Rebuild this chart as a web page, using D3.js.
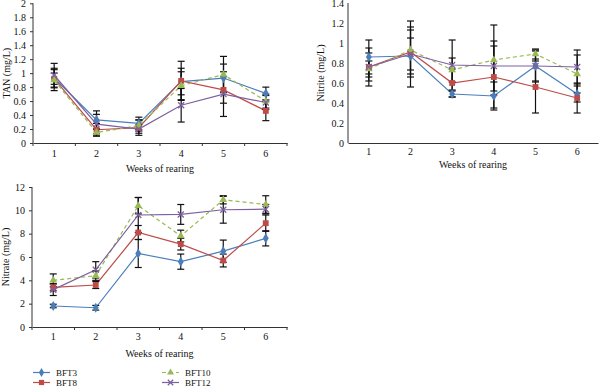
<!DOCTYPE html>
<head>
  <meta charset="utf-8">
  <script src="https://d3js.org/d3.v7.min.js"></script>
  <style>
    body { margin:0; padding:0; background:#fff; }
    text { font-family: "Liberation Serif", "DejaVu Serif", serif; fill:#111; }
  </style>
</head>
<body>
<svg id="chart" width="600" height="388"></svg>
<script>
var weeks = [1, 2, 3, 4, 5, 6];
var seriesNames = ["BFT3", "BFT8", "BFT10", "BFT12"];

// TAN (mg/L) means and SD
var tanBFT3  = [0.93, 0.33, 0.28, 0.88, 0.93, 0.71];
var tanBFT8  = [0.92, 0.19, 0.22, 0.89, 0.76, 0.46];
var tanBFT10 = [0.90, 0.15, 0.25, 0.82, 0.98, 0.60];
var tanBFT12 = [0.97, 0.27, 0.20, 0.54, 0.70, 0.58];
var tanSdBFT3  = [0.14, 0.13, 0.09, 0.19, 0.20, 0.09];
var tanSdBFT8  = [0.08, 0.09, 0.11, 0.28, 0.19, 0.14];
var tanSdBFT10 = [0.15, 0.05, 0.08, 0.20, 0.26, 0.10];
var tanSdBFT12 = [0.17, 0.14, 0.06, 0.24, 0.32, 0.10];

// Nitrite (mg/L)
var nitriteBFT3  = [0.86, 0.87, 0.49, 0.47, 0.77, 0.49];
var nitriteBFT8  = [0.76, 0.91, 0.60, 0.66, 0.56, 0.45];
var nitriteBFT10 = [0.74, 0.93, 0.73, 0.83, 0.89, 0.69];
var nitriteBFT12 = [0.76, 0.89, 0.78, 0.77, 0.77, 0.76];
var nitriteSdBFT3  = [0.17, 0.18, 0.03, 0.14, 0.16, 0.08];
var nitriteSdBFT8  = [0.14, 0.25, 0.14, 0.31, 0.26, 0.15];
var nitriteSdBFT10 = [0.08, 0.20, 0.12, 0.35, 0.05, 0.19];
var nitriteSdBFT12 = [0.19, 0.33, 0.25, 0.25, 0.15, 0.17];

// Nitrate (mg/L)
var nitrateBFT3  = [1.8, 1.65, 6.3, 5.6, 6.5, 7.6];
var nitrateBFT8  = [3.4, 3.6, 8.1, 7.1, 5.7, 8.9];
var nitrateBFT10 = [4.0, 4.4, 10.4, 7.8, 10.9, 10.5];
var nitrateBFT12 = [3.2, 4.9, 9.6, 9.65, 10.05, 10.1];
var nitrateSdBFT3  = [0.15, 0.2, 1.2, 0.65, 0.95, 0.65];
var nitrateSdBFT8  = [0.3, 0.3, 0.6, 0.5, 0.55, 0.7];
var nitrateSdBFT10 = [0.55, 0.4, 0.7, 0.5, 0.35, 0.75];
var nitrateSdBFT12 = [0.5, 0.7, 1.5, 0.85, 1.15, 0.4];

var tanTicks = [0, 0.2, 0.4, 0.6, 0.8, 1, 1.2, 1.4, 1.6, 1.8, 2];
var nitriteTicks = [0, 0.2, 0.4, 0.6, 0.8, 1, 1.2, 1.4];
var nitrateTicks = [0, 2, 4, 6, 8, 10, 12];

var colors = { BFT3: "#4a7ebb", BFT8: "#be4b48", BFT10: "#98b954", BFT12: "#7d60a0" };

var svg = d3.select("#chart");

function marker(g, name, x, y, k) {
  var c = colors[name];
  k = k || 1;
  if (name === "BFT3") {
    g.append("path").attr("d", d3.symbol(d3.symbolDiamond, 30 * k)())
      .attr("transform", "translate(" + x + "," + y + ")").attr("fill", c);
  } else if (name === "BFT8") {
    g.append("path").attr("d", d3.symbol(d3.symbolSquare, 34 * k)())
      .attr("transform", "translate(" + x + "," + y + ")").attr("fill", c);
  } else if (name === "BFT10") {
    g.append("path").attr("d", d3.symbol(d3.symbolTriangle, 26 * k)())
      .attr("transform", "translate(" + x + "," + y + ")").attr("fill", c);
  } else {
    var s = 3 * Math.sqrt(k);
    g.append("path").attr("d", "M" + (x - s) + "," + (y - s) + "L" + (x + s) + "," + (y + s) +
        "M" + (x - s) + "," + (y + s) + "L" + (x + s) + "," + (y - s))
      .attr("stroke", c).attr("stroke-width", 1.3).attr("fill", "none");
  }
}

function panel(opt) {
  var x = d3.scaleBand().domain(weeks).range([opt.x0, opt.x1]);
  var y = d3.scaleLinear().domain([0, opt.max]).range([opt.y0, opt.y1]);
  var g = svg.append("g");
  var cx = function(w) { return x(w) + x.bandwidth() / 2; };

  // y axis
  var ya = g.append("g").attr("transform", "translate(" + opt.x0 + ",0)")
    .call(d3.axisLeft(y).tickValues(opt.ticks).tickSize(opt.yTick).tickPadding(4)
      .tickFormat(d3.format("~g")));
  ya.select(".domain").attr("stroke", "#333").attr("d", "M0," + opt.y0 + "V" + opt.y1);
  ya.selectAll(".tick line").attr("stroke", "#333");
  ya.selectAll("text").style("font-size", "10px").attr("font-family", null);

  // x axis
  var xa = g.append("g").attr("transform", "translate(0," + opt.y0 + ")")
    .call(d3.axisBottom(x).tickSize(0).tickPadding(opt.xPad));
  xa.select(".domain").attr("stroke", "#333");
  xa.selectAll("text").style("font-size", "10px").attr("font-family", null);
  if (opt.xTick) {
    var bounds = weeks.map(function(w) { return x(w) + x.bandwidth(); }).concat([opt.x0]);
    g.selectAll(".xb").data(bounds).enter().append("line")
      .attr("x1", function(d) { return d; }).attr("x2", function(d) { return d; })
      .attr("y1", opt.y0).attr("y2", opt.y0 + 3).attr("stroke", "#333");
  }

  g.append("text").attr("x", (opt.x0 + opt.x1) / 2).attr("y", opt.y0 + opt.xLabelDy)
    .attr("text-anchor", "middle").style("font-size", "10px").text("Weeks of rearing");
  g.append("text").attr("transform", "translate(" + opt.yLabelX + "," + ((opt.y0 + opt.y1) / 2) + ") rotate(-90)")
    .attr("text-anchor", "middle").style("font-size", "10px").text(opt.yLabel);

  var line = d3.line().x(function(d, i) { return cx(weeks[i]); }).y(function(d) { return y(d); });

  seriesNames.forEach(function(name) {
    g.append("path").datum(opt.means[name]).attr("d", line).attr("fill", "none")
      .attr("stroke", colors[name]).attr("stroke-width", 1.2)
      .attr("stroke-dasharray", name === "BFT10" ? "4,3" : null);
  });

  seriesNames.forEach(function(name) {
    var m = opt.means[name], sd = opt.sds[name];
    weeks.forEach(function(w, i) {
      var px = cx(w), lo = y(m[i] - sd[i]), hi = y(m[i] + sd[i]);
      g.append("line").attr("x1", px).attr("x2", px).attr("y1", lo).attr("y2", hi)
        .attr("stroke", "#111").attr("stroke-width", 1.2);
      [lo, hi].forEach(function(v) {
        g.append("line").attr("x1", px - 3.5).attr("x2", px + 3.5).attr("y1", v).attr("y2", v)
          .attr("stroke", "#111").attr("stroke-width", 1.2);
      });
    });
  });

  seriesNames.forEach(function(name) {
    opt.means[name].forEach(function(v, i) { marker(g, name, cx(weeks[i]), y(v)); });
  });
}

panel({
  x0: 33, x1: 287, y0: 143, y1: 3.3, max: 2, ticks: tanTicks, yTick: 3, xTick: true, xPad: 7,
  xLabelDy: 29, yLabelX: 10, yLabel: "TAN (mg/L)",
  means: { BFT3: tanBFT3, BFT8: tanBFT8, BFT10: tanBFT10, BFT12: tanBFT12 },
  sds: { BFT3: tanSdBFT3, BFT8: tanSdBFT8, BFT10: tanSdBFT10, BFT12: tanSdBFT12 }
});

panel({
  x0: 348, x1: 598, y0: 143, y1: 3, max: 1.4, ticks: nitriteTicks, yTick: 0, xTick: false, xPad: 5,
  xLabelDy: 25, yLabelX: 324, yLabel: "Nitrite (mg/L)",
  means: { BFT3: nitriteBFT3, BFT8: nitriteBFT8, BFT10: nitriteBFT10, BFT12: nitriteBFT12 },
  sds: { BFT3: nitriteSdBFT3, BFT8: nitriteSdBFT8, BFT10: nitriteSdBFT10, BFT12: nitriteSdBFT12 }
});

panel({
  x0: 32, x1: 287, y0: 327, y1: 187, max: 12, ticks: nitrateTicks, yTick: 3, xTick: true, xPad: 6,
  xLabelDy: 30, yLabelX: 9, yLabel: "Nitrate (mg/L)",
  means: { BFT3: nitrateBFT3, BFT8: nitrateBFT8, BFT10: nitrateBFT10, BFT12: nitrateBFT12 },
  sds: { BFT3: nitrateSdBFT3, BFT8: nitrateSdBFT8, BFT10: nitrateSdBFT10, BFT12: nitrateSdBFT12 }
});

// legend
var legendPos = { BFT3: [33, 372.5], BFT8: [33, 382.5], BFT10: [162, 372.5], BFT12: [162, 382.5] };
var lg = svg.append("g");
seriesNames.forEach(function(name) {
  var p = legendPos[name];
  lg.append("line").attr("x1", p[0]).attr("x2", p[0] + 17).attr("y1", p[1]).attr("y2", p[1])
    .attr("stroke", colors[name]).attr("stroke-width", 1.2)
    .attr("stroke-dasharray", name === "BFT10" ? "4,3" : null);
  marker(lg, name, p[0] + 8.5, p[1], 0.8);
  lg.append("text").attr("x", p[0] + 23).attr("y", p[1] + 3).style("font-size", "9px").text(name);
});
</script>
</body>
